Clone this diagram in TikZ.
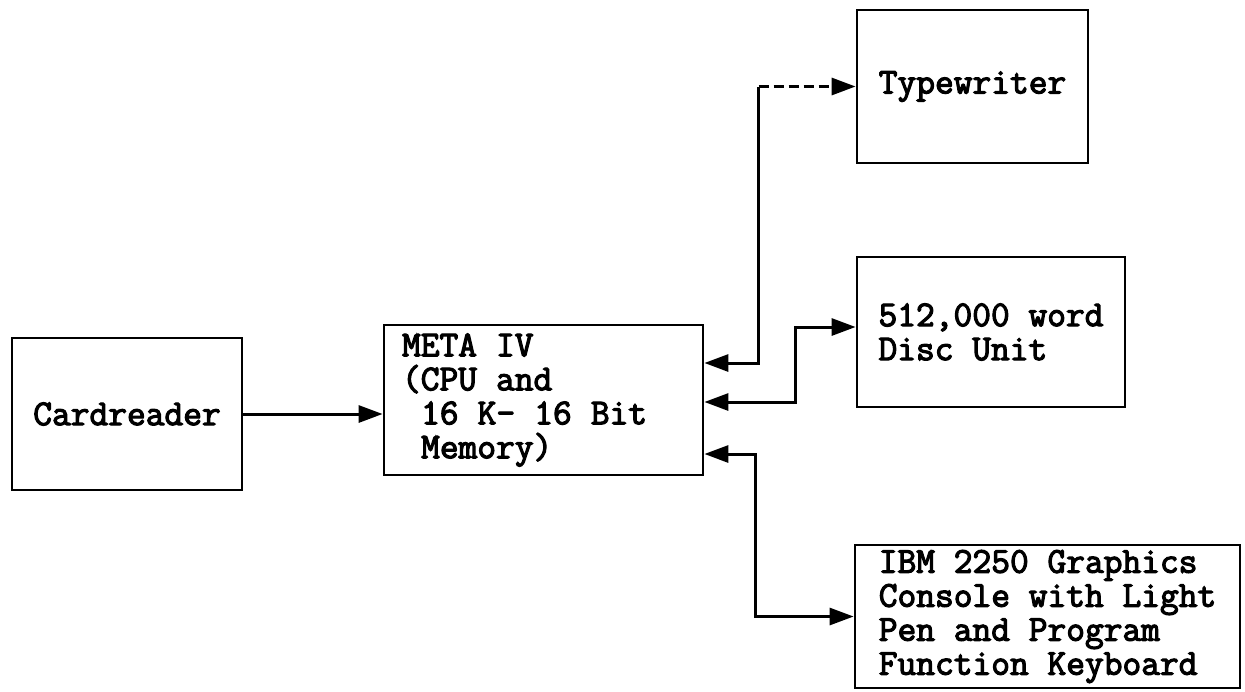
\documentclass[tikz,border=0pt]{standalone}
\usepackage{fontspec}
\newfontfamily\typerfont{Latin Modern Mono}[FakeBold=3.2]
\usetikzlibrary{arrows.meta}

\newcommand{\unitfont}{\typerfont\fontsize{18.2pt}{17pt}\selectfont}

\begin{document}
\begin{tikzpicture}[x=0.5pt,y=-0.5pt,
  >={Triangle[length=12pt,width=8.5pt]},
  unit/.style={draw, line width=1.4pt, font=\unitfont, inner sep=0pt},
  feed/.style={line width=1.5pt, ->},
  duplex/.style={line width=1.5pt, <->}]

\useasboundingbox (0,0) rectangle (1245,691);

% --- Input: card reader
\node[unit, minimum width=115pt, minimum height=76pt] (card) at (127,414) {Cardreader};

% --- Processor
\node[unit, minimum width=159.5pt, minimum height=75pt, text width=141.5pt,
  align=left, inner xsep=9pt] (meta) at (543.5,400)
  {\spaceskip=0.525em\xspaceskip=0.525em
   META IV\\(CPU and\\\hspace*{0.525em}16 K- 16 Bit\\\hspace*{0.525em}Memory)};

% --- Peripherals
\node[unit, minimum width=115.5pt, minimum height=76.5pt] (tw) at (972.5,86.5) {Typewriter};
\node[unit, minimum width=134pt, minimum height=75pt, align=left] (disc) at (991,332)
  {512,000 word\\Disc Unit};
\node[unit, minimum width=192.5pt, minimum height=71.5pt, align=left] (ibm) at (1047.5,616.5)
  {IBM 2250 Graphics\\Console with Light\\Pen and Program\\Function Keyboard};

% --- Connections
\draw[feed] (card.east) -- (card.east -| meta.west);

\coordinate (twbend) at ([xshift=-48.5pt]tw.west);
\draw[line width=1.5pt, <-] ([yshift=18.5pt]meta.east) -| (twbend);
\draw[feed, dash pattern=on 5pt off 2.5pt] (twbend) -- (tw.west);

\draw[duplex] ([yshift=-1pt]meta.east) -| ([xshift=-30pt,yshift=2.5pt]disc.west)
  -- ([yshift=2.5pt]disc.west);
\draw[duplex] ([yshift=-27pt]meta.east) -| ([xshift=-49pt]ibm.west) -- (ibm.west);

\end{tikzpicture}
\end{document}
